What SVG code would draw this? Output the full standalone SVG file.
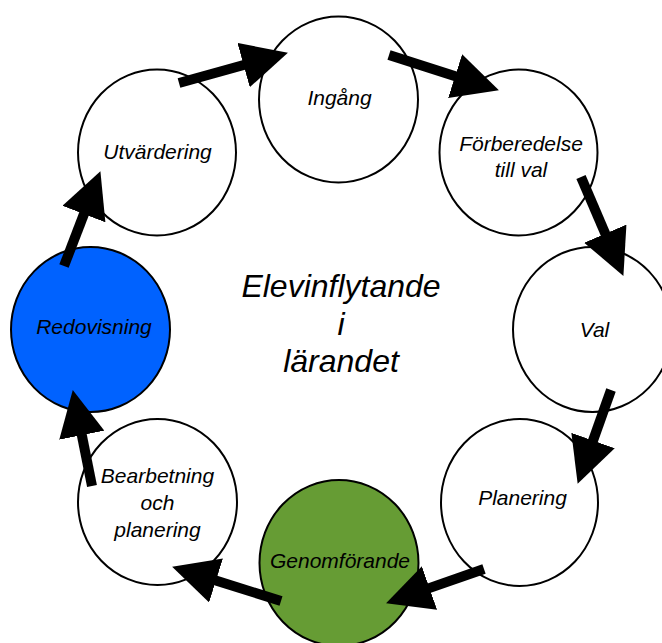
<svg xmlns="http://www.w3.org/2000/svg" width="662" height="643" viewBox="0 0 662 643">
<style>
.n{stroke:#000;stroke-width:2;fill:#fff}
.t{font-family:"Liberation Sans",Arial,sans-serif;font-style:italic;font-size:21px;fill:#000;text-anchor:middle}
.c{font-family:"Liberation Sans",Arial,sans-serif;font-style:italic;font-size:32px;fill:#000;text-anchor:middle}
.a{stroke:#000;stroke-width:10;fill:none;marker-end:url(#h)}
</style>
<defs>
<marker id="h" markerUnits="userSpaceOnUse" markerWidth="46" markerHeight="46" viewBox="0 0 44 44" refX="1" refY="22" orient="auto">
<path d="M0,0 L44,22 L0,44 z" fill="#000"/>
</marker>
</defs>
<rect width="662" height="643" fill="#fff"/>
<g id="center"><text class="c" x="341" y="297">Elevinflytande</text><text class="c" x="341" y="335">i</text><text class="c" x="341" y="372">lärandet</text></g>
<g id="ingang"><ellipse class="n" cx="338.5" cy="99.5" rx="79.5" ry="83"/><text class="t" x="339.5" y="105">Ingång</text></g>
<g id="forberedelse"><ellipse class="n" cx="518.5" cy="152.5" rx="79" ry="83"/><text class="t" x="521" y="151">Förberedelse</text><text class="t" x="521" y="177">till val</text></g>
<g id="val"><ellipse class="n" cx="592.5" cy="329.5" rx="79.5" ry="82.5"/><text class="t" x="594.5" y="337">Val</text></g>
<g id="planering"><ellipse class="n" cx="519.5" cy="502.5" rx="78.5" ry="83.5"/><text class="t" x="522.5" y="505">Planering</text></g>
<g id="genomforande"><ellipse class="n" cx="339" cy="563" rx="79.5" ry="83" fill="#669c34" style="fill:#669c34"/><text class="t" x="340" y="568">Genomförande</text></g>
<g id="bearbetning"><ellipse class="n" cx="157.5" cy="502" rx="79.5" ry="83"/><text class="t" x="157.5" y="483">Bearbetning</text><text class="t" x="157.5" y="510">och</text><text class="t" x="157.5" y="537">planering</text></g>
<g id="redovisning"><ellipse class="n" cx="90.5" cy="329.5" rx="79.5" ry="82.5" style="fill:#0062ff"/><text class="t" x="94" y="334">Redovisning</text></g>
<g id="utvardering"><ellipse class="n" cx="157" cy="152.5" rx="79" ry="83"/><text class="t" x="157.5" y="159">Utvärdering</text></g>
<g id="connectors">
<line class="a" x1="179" y1="83" x2="244.6" y2="64.8"/>
<line class="a" x1="389" y1="55" x2="456.1" y2="76.5"/>
<line class="a" x1="581" y1="177" x2="605.7" y2="234.6"/>
<line class="a" x1="611" y1="390" x2="592.7" y2="441.5"/>
<line class="a" x1="484" y1="569" x2="428.5" y2="588.4"/>
<line class="a" x1="281" y1="601" x2="215" y2="580.2"/>
<line class="a" x1="92" y1="486" x2="81.6" y2="434.1"/>
<line class="a" x1="64" y1="266" x2="84.3" y2="213.1"/>
</g>
</svg>
